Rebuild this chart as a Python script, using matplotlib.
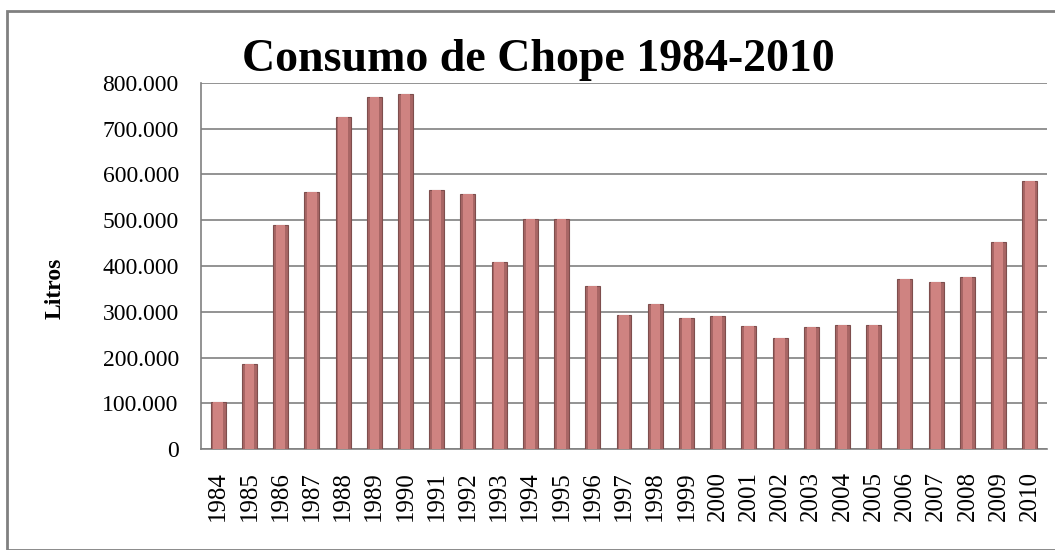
import matplotlib.pyplot as plt
from matplotlib.ticker import FuncFormatter
from matplotlib.patches import Rectangle

# Consumo de chope por ano (litros)
anos = [str(a) for a in range(1984, 2011)]
litros = [103000, 185000, 489000, 561000, 725000, 769000, 777000, 566000, 557000,
          408000, 502000, 502000, 356000, 292000, 316000, 286000, 290000, 268000,
          243000, 266000, 272000, 270000, 371000, 366000, 375000, 452000, 585000]
y_ticks = list(range(0, 800001, 100000))

plt.rcParams['font.family'] = ['Liberation Serif', 'DejaVu Serif']

fig = plt.figure(figsize=(10.55, 5.5), dpi=100)
ax = fig.add_axes([201/1055, 1 - 449/550, 846/1055, 366/550])

x = range(len(anos))
# bar body, darker edge + lighter middle strip for the bevel look
ax.bar(x, litros, width=0.48, color="#A86665", edgecolor="#7E4E4D", linewidth=0.8, zorder=3)
ax.bar(x, litros, width=0.30, color="#CF8381", linewidth=0, zorder=4)

ax.set_xlim(-0.55, len(anos) - 0.45)
ax.set_ylim(0, 800000)
ax.set_yticks(y_ticks)
ax.yaxis.set_major_formatter(FuncFormatter(lambda v, p: f"{int(v):,}".replace(",", ".")))
ax.set_xticks(list(x))
ax.set_xticklabels(anos, rotation=90, fontsize=18)
ax.tick_params(axis='y', labelsize=17, length=0, pad=16)
ax.tick_params(axis='x', length=0, pad=16)

ax.grid(axis='y', color="#808080", linewidth=1.2, zorder=0)
for s in ['top', 'right']:
    ax.spines[s].set_visible(False)
for s in ['left', 'bottom']:
    ax.spines[s].set_color("#808080")
    ax.spines[s].set_linewidth(1.2)

fig.text(55/1055, 1 - 288/550, "Litros", rotation=90, ha='center', va='center',
         fontsize=17, fontweight='bold')
fig.text(538/1055, 1 - 60/550, "Consumo de Chope 1984-2010", ha='center', va='center',
         fontsize=33, fontweight='bold')

# outer chart border
fig.patches.append(Rectangle((7/1055, 0), 1.1, 1 - 11/550, transform=fig.transFigure,
                             fill=False, edgecolor="#808080", linewidth=2))

fig.savefig("out.png", dpi=100)
